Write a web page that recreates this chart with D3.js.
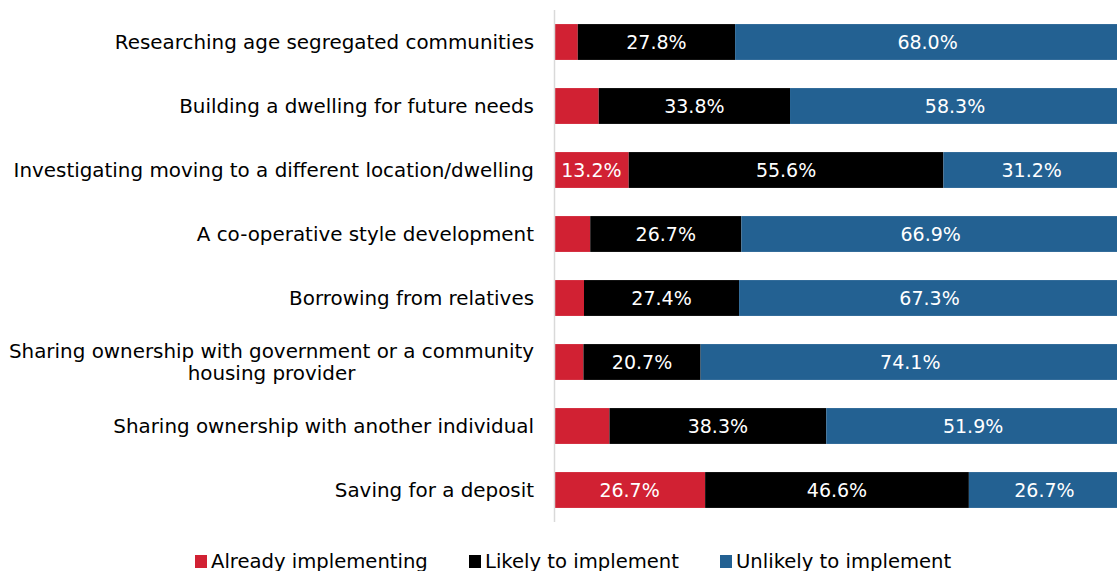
<!DOCTYPE html>
<html>
<head>
<meta charset="utf-8">
<script src="https://cdn.jsdelivr.net/npm/d3@7"></script>
<style>
  html, body { margin: 0; padding: 0; background: #fff; }
  svg { display: block; font-family: "DejaVu Sans", Verdana, sans-serif; }
</style>
</head>
<body>
<svg id="chart" width="1117" height="571"></svg>
<script>
// Housing strategies: share of respondents by intention
const categories = [
  "Researching age segregated communities",
  "Building a dwelling for future needs",
  "Investigating moving to a different location/dwelling",
  "A co-operative style development",
  "Borrowing from relatives",
  "Sharing ownership with government or a community|housing provider",
  "Sharing ownership with another individual",
  "Saving for a deposit"
];
const alreadyImplementing = [4.2, 7.9, 13.2, 6.4, 5.3, 5.2, 9.8, 26.7];
const likelyToImplement   = [27.8, 33.8, 55.6, 26.7, 27.4, 20.7, 38.3, 46.6];
const unlikelyToImplement = [68.0, 58.3, 31.2, 66.9, 67.3, 74.1, 51.9, 26.7];
const seriesNames = ["Already implementing", "Likely to implement", "Unlikely to implement"];
const seriesColors = ["#d12133", "#000000", "#236192"];
const labelMin = 10; // segments narrower than this carry no value label

const rows = categories.map((c, i) => ({
  category: c,
  "Already implementing": alreadyImplementing[i],
  "Likely to implement": likelyToImplement[i],
  "Unlikely to implement": unlikelyToImplement[i]
}));

const svg = d3.select("#chart");
const x = d3.scaleLinear().domain([0, 100]).range([554, 1120]);
const y = d3.scaleBand().domain(categories).range([10, 522]).paddingInner(0.44).paddingOuter(0.22);

const stack = d3.stack().keys(seriesNames)(rows);

const layers = svg.append("g").selectAll("g")
  .data(stack).join("g")
  .attr("fill", (d, i) => seriesColors[i]);

layers.selectAll("rect")
  .data(d => d.map(p => ({ p, key: d.key })))
  .join("rect")
  .attr("x", d => x(d.p[0]))
  .attr("y", d => y(d.p.data.category))
  .attr("width", d => x(d.p[1]) - x(d.p[0]))
  .attr("height", y.bandwidth());

layers.selectAll("text")
  .data(d => d.map(p => ({ p, key: d.key })).filter(d => d.p.data[d.key] >= labelMin))
  .join("text")
  .attr("x", d => (x(d.p[0]) + x(d.p[1])) / 2)
  .attr("y", d => y(d.p.data.category) + y.bandwidth() / 2)
  .attr("dy", "0.36em")
  .attr("text-anchor", "middle")
  .attr("fill", "#fff")
  .attr("font-size", 19)
  .text(d => d.p.data[d.key].toFixed(1) + "%");

// category axis line
svg.append("line")
  .attr("x1", 554.5).attr("x2", 554.5)
  .attr("y1", 10).attr("y2", 522)
  .attr("stroke", "#d9d9d9").attr("stroke-width", 1.5);

// category labels, right aligned; wrapped lines centred on the first line
const labelG = svg.append("g").attr("font-size", 19.9).attr("fill", "#000");
categories.forEach(c => {
  const lines = c.split("|");
  const cy = y(c) + y.bandwidth() / 2;
  const lh = 22;
  const t0 = labelG.append("text")
    .attr("x", 534)
    .attr("y", cy - (lines.length - 1) * lh / 2)
    .attr("dy", "0.36em")
    .attr("text-anchor", "end")
    .text(lines[0]);
  if (lines.length > 1) {
    const w = t0.node().getComputedTextLength();
    const mid = 534 - w / 2;
    lines.slice(1).forEach((ln, k) => {
      labelG.append("text")
        .attr("x", mid)
        .attr("y", cy - (lines.length - 1) * lh / 2 + (k + 1) * lh)
        .attr("dy", "0.36em")
        .attr("text-anchor", "middle")
        .text(ln);
    });
  }
});

// legend
const legendX = [195, 469, 720];
const legend = svg.append("g").attr("font-size", 19.6);
seriesNames.forEach((name, i) => {
  legend.append("rect")
    .attr("x", legendX[i]).attr("y", 555)
    .attr("width", 12).attr("height", 13)
    .attr("fill", seriesColors[i]);
  legend.append("text")
    .attr("x", legendX[i] + 16).attr("y", 561)
    .attr("dy", "0.36em")
    .text(name);
});
</script>
</body>
</html>
